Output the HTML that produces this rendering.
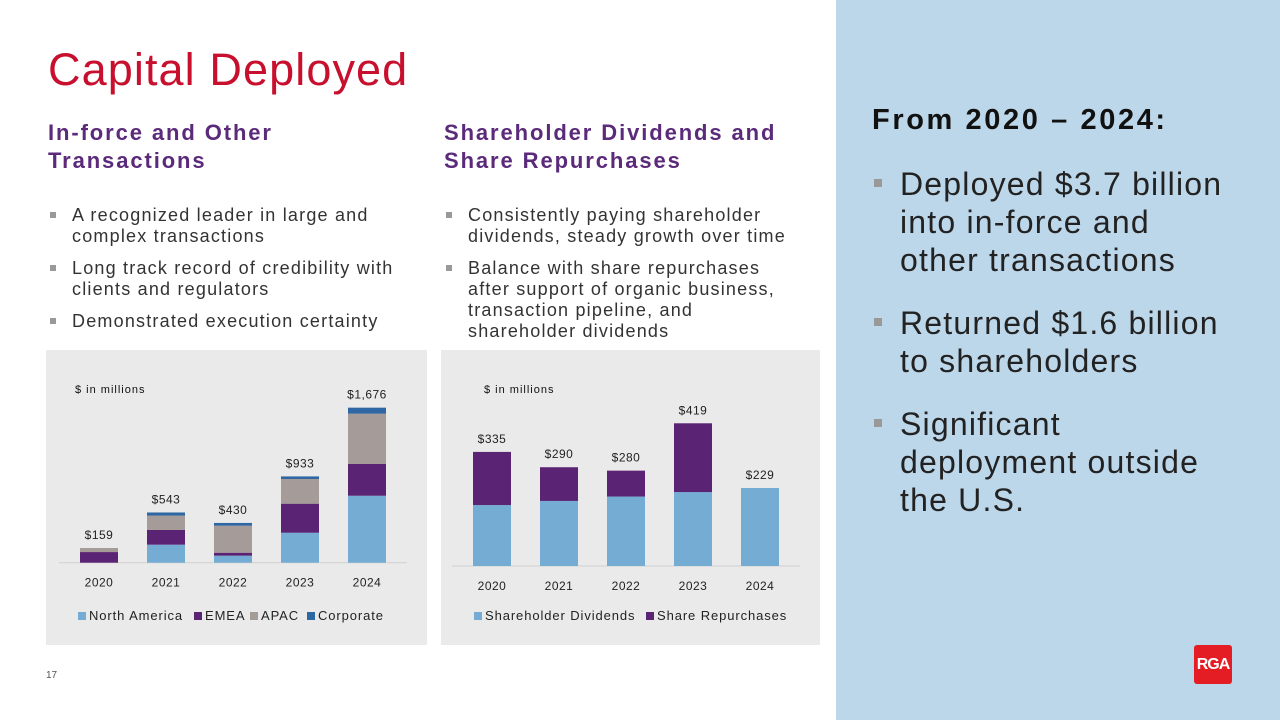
<!DOCTYPE html>
<html><head><meta charset="utf-8"><style>
*{margin:0;padding:0;box-sizing:border-box}
body{width:1280px;height:720px;position:relative;background:#fff;font-family:"Liberation Sans",sans-serif;overflow:hidden}
.a{position:absolute}
h1{position:absolute;left:48px;top:44px;font-size:45px;font-weight:normal;color:#c8102e;letter-spacing:1.1px}
.sub{font-size:22px;font-weight:bold;color:#5b2a7a;line-height:28px;letter-spacing:1.9px;white-space:nowrap}
ul{list-style:none}
li{position:relative;padding-left:24px;font-size:18px;color:#333;line-height:21px;margin-bottom:11px;letter-spacing:1.2px;white-space:nowrap}
li:before{content:"";position:absolute;left:2px;top:7px;width:6px;height:6px;background:#999}
.side li{font-size:32px;line-height:38px;padding-left:28px;margin-bottom:25px;color:#222;letter-spacing:1.2px}
.side li:before{top:14px;width:8px;height:8px}
.panel{background:#ebeaea}
svg text{font-family:"Liberation Sans",sans-serif}
</style></head><body>
<h1>Capital Deployed</h1>
<div class="a sub" style="left:48px;top:119px">In-force and Other<br>Transactions</div>
<div class="a sub" style="left:444px;top:119px">Shareholder Dividends and<br>Share Repurchases</div>
<ul class="a" style="left:48px;top:205px">
<li>A recognized leader in large and<br>complex transactions</li>
<li>Long track record of credibility with<br>clients and regulators</li>
<li>Demonstrated execution certainty</li></ul>
<ul class="a" style="left:444px;top:205px">
<li>Consistently paying shareholder<br>dividends, steady growth over time</li>
<li>Balance with share repurchases<br>after support of organic business,<br>transaction pipeline, and<br>shareholder dividends</li></ul>
<div class="a panel" style="left:46px;top:350px;width:381px;height:295px"></div>
<div class="a panel" style="left:441px;top:350px;width:379px;height:295px"></div>
<svg class="a" style="left:0;top:0" width="836" height="720" id="charts"></svg>
<div class="a" style="left:46px;top:670px;font-size:10px;color:#555">17</div>
<div class="a side" style="left:836px;top:0;width:444px;height:720px;background:#bdd7ea">
<div class="a" style="left:36px;top:104px;font-size:29px;font-weight:bold;color:#111;letter-spacing:2.6px;white-space:nowrap">From 2020 – 2024:</div>
<ul class="a" style="left:36px;top:165px">
<li>Deployed $3.7 billion<br>into in-force and<br>other transactions</li>
<li>Returned $1.6 billion<br>to shareholders</li>
<li>Significant<br>deployment outside<br>the U.S.</li></ul>
<div class="a" style="left:358px;top:645px;width:38px;height:39px;background:#e31d23;border-radius:3px;color:#fff;font-weight:bold;font-size:16px;line-height:39px;text-align:center;letter-spacing:-1px">RGA</div>
</div>
<script>
const years=["2020","2021","2022","2023","2024"];
const northAmerica=[0,195,76,324,724];
const emea=[115,159,32,314,343];
const apac=[44,155,292,267,544];
const corporate=[0,34,30,28,65];
const totalsLeft=["$159","$543","$430","$933","$1,676"];
const dividends=[179,191,204,217,229];
const repurchases=[156,99,76,202,0];
const totalsRight=["$335","$290","$280","$419","$229"];
const NS="http://www.w3.org/2000/svg";
const svg=document.getElementById('charts');
function mk(t,a,txt){const e=document.createElementNS(NS,t);for(const k in a)e.setAttribute(k,a[k]);if(txt!=null)e.textContent=txt;svg.appendChild(e);return e;}
function drawChart(x0,base,scale,series,colors,names,totals,key){
  const xC=i=>x0+i*67, yS=v=>base-v*scale;
  let line=mk('line',{x1:x0-40,x2:x0+308,y1:base,y2:base,stroke:'#d0d0d0'});
  
  
  years.forEach((yr,i)=>{
    let cum=0;
    series.forEach((s,j)=>{
      if(s[i]>0){
        const r=mk('rect',{x:xC(i)-19,width:38,y:yS(cum+s[i]),height:s[i]*scale,fill:colors[j]});
        
        
      }
      cum+=s[i];
    });
    const t=mk('text',{x:xC(i),y:yS(cum)-9,'text-anchor':'middle','font-size':12,fill:'#222','letter-spacing':'0.5'},totals[i]);
    
    
    const l=mk('text',{x:xC(i),y:base+24,'text-anchor':'middle','font-size':12,fill:'#222','letter-spacing':'0.5'},yr);
    
    
  });
}
drawChart(99,562.7,0.0925,[northAmerica,emea,apac,corporate],['#75acd4','#5b2373','#a59b98','#2f67a3'],['north-america','emea','apac','corporate'],totalsLeft,'left');
drawChart(492,566,0.3406,[dividends,repurchases],['#75acd4','#5b2373'],['dividends','repurchases'],totalsRight,'right');
let u1=mk('text',{x:75,y:393,'font-size':11,fill:'#111','letter-spacing':'1'},'$ in millions');


let u2=mk('text',{x:484,y:393,'font-size':11,fill:'#111','letter-spacing':'1'},'$ in millions');


function legend(items,x,y,key){
  items.forEach(([name,col,dx])=>{
    const r=mk('rect',{x:x+dx,y:y-8,width:8,height:8,fill:col});
    
    
    const t=mk('text',{x:x+dx+11,y:y,'font-size':13,fill:'#222','letter-spacing':'0.9'},name);
    
    
  });
}
legend([['North America','#75acd4',0],['EMEA','#5b2373',116],['APAC','#a59b98',172],['Corporate','#2f67a3',229]],78,620,'left');
legend([['Shareholder Dividends','#75acd4',0],['Share Repurchases','#5b2373',172]],474,620,'right');
</script>
</body></html>
